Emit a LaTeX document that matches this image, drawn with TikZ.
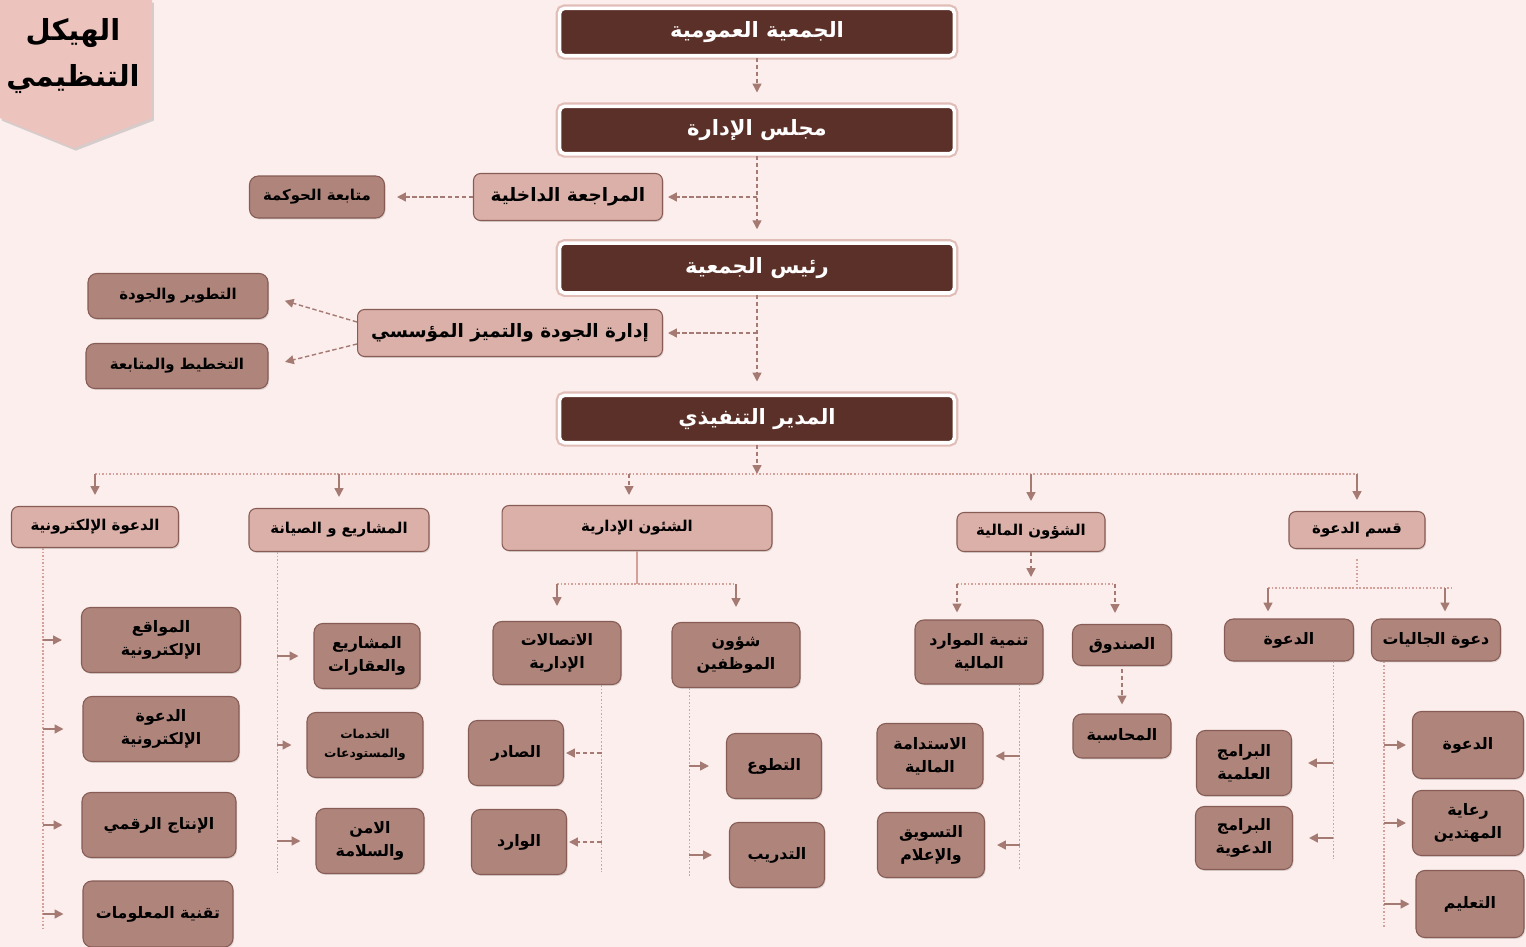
\documentclass[tikz,border=0pt]{standalone}
\usepackage{fontspec}
\usetikzlibrary{arrows.meta,shadows}
\TeXXeTstate=1
\newfontfamily\arabicfont[Script=Arabic]{DejaVu Sans}
\newcommand{\artxt}[1]{\beginR#1\endR}
\definecolor{bgx}{RGB}{251,238,236}
\definecolor{brx}{RGB}{90,48,40}
\definecolor{pkx}{RGB}{218,176,169}
\definecolor{rsx}{RGB}{174,132,123}
\definecolor{edx}{RGB}{134,92,85}
\definecolor{arx}{RGB}{164,122,115}
\definecolor{rlx}{RGB}{212,160,154}
\definecolor{bnx}{RGB}{236,195,189}
\tikzset{
    head/.style={rounded corners=3pt,fill=brx,draw=white,line width=2pt,text=white,
        preaction={draw=rlx!70,line width=4.5pt},inner sep=1pt,
        minimum width=7.9cm,minimum height=0.95cm,
        font=\arabicfont\bfseries\fontsize{12}{14}\selectfont},
    mid/.style={rounded corners=4pt,fill=pkx,draw=edx,line width=0.6pt,inner sep=1pt,
        drop shadow={shadow xshift=0.6pt,shadow yshift=-0.8pt,opacity=0.25},
        font=\arabicfont\bfseries\fontsize{10.5}{12}\selectfont},
    dept/.style={mid,font=\arabicfont\bfseries\fontsize{8.5}{10}\selectfont},
    unit/.style={rounded corners=5pt,fill=rsx,draw=edx,line width=0.6pt,inner sep=1pt,
        drop shadow={shadow xshift=0.6pt,shadow yshift=-0.8pt,opacity=0.25},
        align=center,minimum height=1.3cm,
        font=\arabicfont\bfseries\fontsize{9}{13}\selectfont},
    link/.style={arx,line width=0.8pt,dash pattern=on 2.5pt off 1.5pt,
        -{Triangle[width=5pt,length=5pt]}},
    tick/.style={arx,line width=0.9pt,-{Triangle[width=5pt,length=5pt]}},
    rail/.style={rlx,line width=0.6pt,dash pattern=on 1pt off 1pt},
    stem/.style={rlx,line width=0.8pt}
}
\begin{document}
\begin{tikzpicture}[x=0.02cm,y=-0.02cm]
    \fill[bgx] (0,0) rectangle (1526,947);
    \useasboundingbox (0,0) rectangle (1526,947);
    \fill[bnx,drop shadow={shadow xshift=1pt,shadow yshift=-1.5pt,opacity=0.3}]
        (0,0) -- (152,0) -- (152,118) -- (74,148) -- (0,118) -- cycle;
    \node[font=\arabicfont\bfseries\fontsize{16.5}{26}\selectfont,align=center] (ttl) at (73,56)
        {\artxt{الهيكل}\\\artxt{التنظيمي}};
    \node[head] (gen) at (757,32) {\artxt{الجمعية العمومية}};
    \node[head] (board) at (757,130) {\artxt{مجلس الإدارة}};
    \node[head,minimum height=1cm] (pres) at (757,268) {\artxt{رئيس الجمعية}};
    \node[head] (exec) at (757,419) {\artxt{المدير التنفيذي}};
    \node[mid,minimum width=3.78cm,minimum height=0.94cm] (audit) at (568,197) {\artxt{المراجعة الداخلية}};
    \node[unit,minimum width=2.7cm,minimum height=0.84cm,font=\arabicfont\bfseries\fontsize{8.5}{10}\selectfont] (gov) at (317,197) {\artxt{متابعة الحوكمة}};
    \node[mid,minimum width=6.1cm,minimum height=0.94cm] (qual) at (510,333) {\artxt{إدارة الجودة والتميز المؤسسي}};
    \node[unit,minimum width=3.6cm,minimum height=0.9cm,font=\arabicfont\bfseries\fontsize{8.5}{10}\selectfont] (devq) at (178,296) {\artxt{التطوير والجودة}};
    \node[unit,minimum width=3.64cm,minimum height=0.9cm,font=\arabicfont\bfseries\fontsize{8.5}{10}\selectfont] (plan) at (177,366) {\artxt{التخطيط والمتابعة}};
    \node[dept,minimum width=3.34cm,minimum height=0.82cm] (eDawa) at (95,527) {\artxt{الدعوة الإلكترونية}};
    \node[dept,minimum width=3.6cm,minimum height=0.86cm] (proj) at (339,530) {\artxt{المشاريع و الصيانة}};
    \node[dept,minimum width=5.4cm,minimum height=0.9cm] (admin) at (637,528) {\artxt{الشئون الإدارية}};
    \node[dept,minimum width=2.96cm,minimum height=0.78cm] (fin) at (1031,532) {\artxt{الشؤون المالية}};
    \node[dept,minimum width=2.72cm,minimum height=0.74cm] (dawa) at (1357,530) {\artxt{قسم الدعوة}};
    \node[unit,minimum width=3.18cm] (sites) at (161,640) {\artxt{المواقع}\\\artxt{الإلكترونية}};
    \node[unit,minimum width=3.12cm] (edw) at (161,729) {\artxt{الدعوة}\\\artxt{الإلكترونية}};
    \node[unit,minimum width=3.08cm] (media) at (159,825) {\artxt{الإنتاج الرقمي}};
    \node[unit,minimum width=3cm,minimum height=1.32cm] (it) at (158,914) {\artxt{تقنية المعلومات}};
    \node[unit,minimum width=2.12cm] (realty) at (367,656) {\artxt{المشاريع}\\\artxt{والعقارات}};
    \node[unit,minimum width=2.32cm,font=\arabicfont\bfseries\fontsize{7}{11}\selectfont] (stores) at (365,745) {\artxt{الخدمات}\\\artxt{والمستودعات}};
    \node[unit,minimum width=2.16cm] (safety) at (370,841) {\artxt{الامن}\\\artxt{والسلامة}};
    \node[unit,minimum width=2.56cm,minimum height=1.26cm] (comm) at (557,653) {\artxt{الاتصالات}\\\artxt{الإدارية}};
    \node[unit,minimum width=2.56cm] (staff) at (736,655) {\artxt{شؤون}\\\artxt{الموظفين}};
    \node[unit,minimum width=1.9cm] (outgo) at (516,753) {\artxt{الصادر}};
    \node[unit,minimum width=1.9cm] (incom) at (519,842) {\artxt{الوارد}};
    \node[unit,minimum width=1.9cm] (volun) at (774,766) {\artxt{التطوع}};
    \node[unit,minimum width=1.9cm] (train) at (777,855) {\artxt{التدريب}};
    \node[unit,minimum width=2.56cm,minimum height=1.28cm] (resdev) at (979,652) {\artxt{تنمية الموارد}\\\artxt{المالية}};
    \node[unit,minimum width=1.98cm,minimum height=0.82cm] (fund) at (1122,645) {\artxt{الصندوق}};
    \node[unit,minimum width=1.96cm,minimum height=0.88cm] (acct) at (1122,736) {\artxt{المحاسبة}};
    \node[unit,minimum width=2.12cm] (sustain) at (930,756) {\artxt{الاستدامة}\\\artxt{المالية}};
    \node[unit,minimum width=2.14cm] (market) at (931,845) {\artxt{التسويق}\\\artxt{والإعلام}};
    \node[unit,minimum width=2.58cm,minimum height=0.84cm] (dw) at (1289,640) {\artxt{الدعوة}};
    \node[unit,minimum width=2.58cm,minimum height=0.84cm] (comty) at (1436,640) {\artxt{دعوة الجاليات}};
    \node[unit,minimum width=1.9cm] (sci) at (1244,763) {\artxt{البرامج}\\\artxt{العلمية}};
    \node[unit,minimum width=1.94cm,minimum height=1.26cm] (dprog) at (1244,838) {\artxt{البرامج}\\\artxt{الدعوية}};
    \node[unit,minimum width=2.22cm,minimum height=1.34cm] (dw2) at (1468,745) {\artxt{الدعوة}};
    \node[unit,minimum width=2.22cm] (convert) at (1468,823) {\artxt{رعاية}\\\artxt{المهتدين}};
    \node[unit,minimum width=2.16cm,minimum height=1.34cm] (teach) at (1470,904) {\artxt{التعليم}};
    \draw[link,shorten >=0.24cm] (gen.south) -- (board.north);
    \draw[link,shorten >=0.24cm] (board.south) -- (pres.north);
    \draw[link,shorten >=0.1cm] (board.south |- audit.east) -- (audit.east);
    \draw[link,shorten >=0.24cm] (audit.west) -- (gov.east);
    \draw[link,shorten >=0.24cm] (pres.south) -- (exec.north);
    \draw[link,shorten >=0.1cm] (pres.south |- qual.east) -- (qual.east);
    \draw[link,shorten >=0.34cm] ([yshift=0.22cm]qual.west) -- (devq.east);
    \draw[link,shorten >=0.34cm] ([yshift=-0.22cm]qual.west) -- (plan.east);
    \coordinate (bus) at (757,474);
    \draw[link] (exec.south) -- (bus);
    \draw[rail] (eDawa.north |- bus) -- (dawa.north |- bus);
    \foreach \d in {eDawa,proj,fin,dawa} {
        \draw[tick,shorten >=0.22cm] (\d.north |- bus) -- (\d.north);
    }
    \draw[link,shorten >=0.2cm] ([xshift=-0.16cm]admin.north |- bus) -- ([xshift=-0.16cm]admin.north);
    \coordinate (admbus) at (637,584);
    \draw[stem] (admin.south) -- (admbus);
    \draw[rail] (comm.north |- admbus) -- (staff.north |- admbus);
    \foreach \d in {comm,staff} {
        \draw[tick,shorten >=0.3cm] (\d.north |- admbus) -- (\d.north);
    }
    \coordinate (finbus) at (1031,584);
    \draw[link,shorten >=0.14cm] (fin.south) -- (finbus);
    \draw[rail] ([xshift=-0.44cm]resdev.north |- finbus) -- ([xshift=-0.14cm]fund.north |- finbus);
    \draw[link,shorten >=0.14cm] ([xshift=-0.44cm]resdev.north |- finbus) -- ([xshift=-0.44cm]resdev.north);
    \draw[link,shorten >=0.22cm] ([xshift=-0.14cm]fund.north |- finbus) -- ([xshift=-0.14cm]fund.north);
    \draw[link,shorten <=0.06cm,shorten >=0.18cm] (fund.south) -- (acct.north);
    \coordinate (dawbus) at (1357,588);
    \draw[rail,shorten <=0.2cm] (dawa.south) -- (dawbus);
    \draw[rail] ([xshift=-0.42cm]dw.north |- dawbus) -- ([xshift=0.32cm]comty.north |- dawbus);
    \draw[tick,shorten >=0.14cm] ([xshift=-0.42cm]dw.north |- dawbus) -- ([xshift=-0.42cm]dw.north);
    \draw[tick,shorten >=0.14cm] ([xshift=0.18cm]comty.north |- dawbus) -- ([xshift=0.18cm]comty.north);
    \coordinate (erail) at ([xshift=0.64cm]eDawa.south west);
    \draw[rail] (erail) -- ++(0,382);
    \foreach \u in {sites,edw,media,it} {
        \draw[tick,shorten >=0.38cm] (erail |- \u.west) -- (\u.west);
    }
    \coordinate (prail) at ([xshift=0.58cm]proj.south west);
    \draw[rail] (prail) -- ++(0,320);
    \foreach \u in {realty,stores,safety} {
        \draw[tick,shorten >=0.3cm] (prail |- \u.west) -- (\u.west);
    }
    \coordinate (crail) at ([xshift=-0.4cm]comm.south east);
    \draw[rail] (crail) -- ++(0,187);
    \foreach \u in {outgo,incom} {
        \draw[link,shorten >=0.04cm] (crail |- \u.east) -- (\u.east);
    }
    \coordinate (srail) at ([xshift=0.36cm]staff.south west);
    \draw[rail] (srail) -- ++(0,188);
    \foreach \u in {volun,train} {
        \draw[tick,shorten >=0.34cm] (srail |- \u.west) -- (\u.west);
    }
    \coordinate (frail) at ([xshift=-0.48cm]resdev.south east);
    \draw[rail] (frail) -- ++(0,184);
    \foreach \u in {sustain,market} {
        \draw[tick,shorten >=0.24cm] (frail |- \u.east) -- (\u.east);
    }
    \coordinate (drail) at ([xshift=-0.42cm]dw.south east);
    \draw[rail] (drail) -- ++(0,197);
    \foreach \u in {sci,dprog} {
        \draw[tick,shorten >=0.32cm] (drail |- \u.east) -- (\u.east);
    }
    \coordinate (jrail) at ([xshift=0.26cm]comty.south west);
    \draw[rail] (jrail) -- ++(0,267);
    \foreach \u in {dw2,convert,teach} {
        \draw[tick,shorten >=0.12cm] (jrail |- \u.west) -- (\u.west);
    }
\end{tikzpicture}
\end{document}
